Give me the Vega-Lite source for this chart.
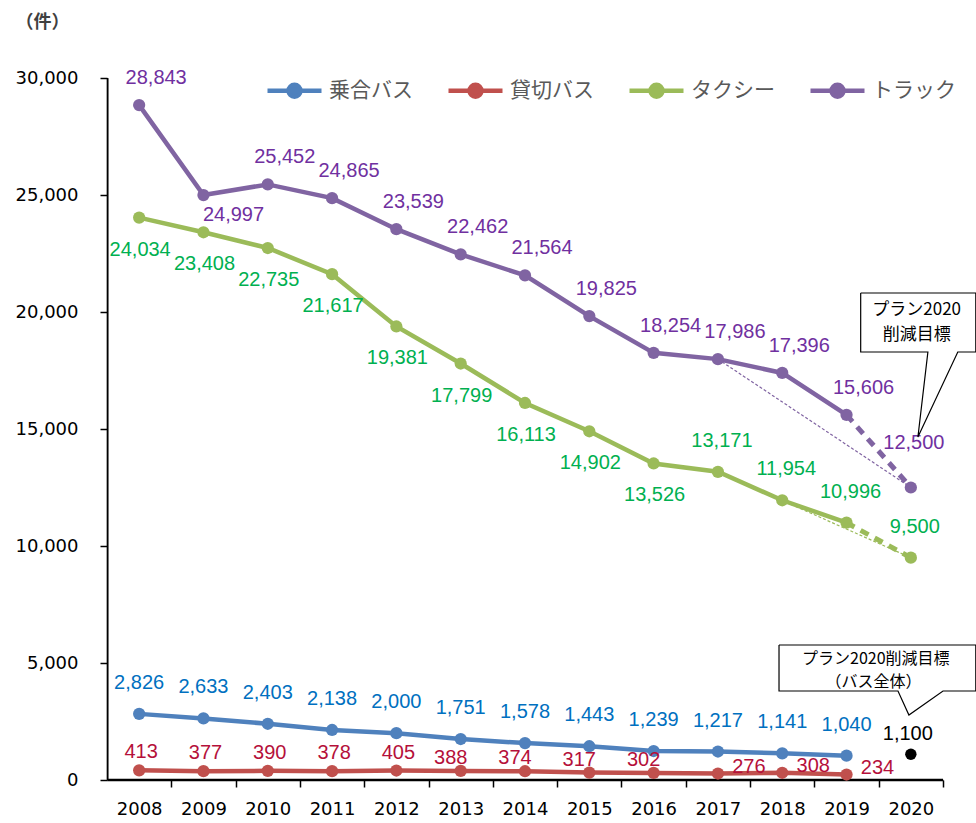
{
  "$schema": "https://vega.github.io/schema/vega-lite/v6.json",
  "width": 836,
  "height": 702,
  "autosize": {"type": "none"},
  "padding": {"left": 107, "top": 78, "right": 33, "bottom": 43},
  "background": "white",
  "config": {"view": {"stroke": null}, "font": "Liberation Sans"},
  "datasets": {
    "main": [
      {"year": 2008, "series": "乗合バス", "value": 2826, "kind": "実績"},
      {"year": 2009, "series": "乗合バス", "value": 2633, "kind": "実績"},
      {"year": 2010, "series": "乗合バス", "value": 2403, "kind": "実績"},
      {"year": 2011, "series": "乗合バス", "value": 2138, "kind": "実績"},
      {"year": 2012, "series": "乗合バス", "value": 2000, "kind": "実績"},
      {"year": 2013, "series": "乗合バス", "value": 1751, "kind": "実績"},
      {"year": 2014, "series": "乗合バス", "value": 1578, "kind": "実績"},
      {"year": 2015, "series": "乗合バス", "value": 1443, "kind": "実績"},
      {"year": 2016, "series": "乗合バス", "value": 1239, "kind": "実績"},
      {"year": 2017, "series": "乗合バス", "value": 1217, "kind": "実績"},
      {"year": 2018, "series": "乗合バス", "value": 1141, "kind": "実績"},
      {"year": 2019, "series": "乗合バス", "value": 1040, "kind": "実績"},
      {"year": 2008, "series": "貸切バス", "value": 413, "kind": "実績"},
      {"year": 2009, "series": "貸切バス", "value": 377, "kind": "実績"},
      {"year": 2010, "series": "貸切バス", "value": 390, "kind": "実績"},
      {"year": 2011, "series": "貸切バス", "value": 378, "kind": "実績"},
      {"year": 2012, "series": "貸切バス", "value": 405, "kind": "実績"},
      {"year": 2013, "series": "貸切バス", "value": 388, "kind": "実績"},
      {"year": 2014, "series": "貸切バス", "value": 374, "kind": "実績"},
      {"year": 2015, "series": "貸切バス", "value": 317, "kind": "実績"},
      {"year": 2016, "series": "貸切バス", "value": 302, "kind": "実績"},
      {"year": 2017, "series": "貸切バス", "value": 276, "kind": "実績"},
      {"year": 2018, "series": "貸切バス", "value": 308, "kind": "実績"},
      {"year": 2019, "series": "貸切バス", "value": 234, "kind": "実績"},
      {"year": 2008, "series": "タクシー", "value": 24034, "kind": "実績"},
      {"year": 2009, "series": "タクシー", "value": 23408, "kind": "実績"},
      {"year": 2010, "series": "タクシー", "value": 22735, "kind": "実績"},
      {"year": 2011, "series": "タクシー", "value": 21617, "kind": "実績"},
      {"year": 2012, "series": "タクシー", "value": 19381, "kind": "実績"},
      {"year": 2013, "series": "タクシー", "value": 17799, "kind": "実績"},
      {"year": 2014, "series": "タクシー", "value": 16113, "kind": "実績"},
      {"year": 2015, "series": "タクシー", "value": 14902, "kind": "実績"},
      {"year": 2016, "series": "タクシー", "value": 13526, "kind": "実績"},
      {"year": 2017, "series": "タクシー", "value": 13171, "kind": "実績"},
      {"year": 2018, "series": "タクシー", "value": 11954, "kind": "実績"},
      {"year": 2019, "series": "タクシー", "value": 10996, "kind": "実績"},
      {"year": 2020, "series": "タクシー", "value": 9500, "kind": "目標"},
      {"year": 2008, "series": "トラック", "value": 28843, "kind": "実績"},
      {"year": 2009, "series": "トラック", "value": 24997, "kind": "実績"},
      {"year": 2010, "series": "トラック", "value": 25452, "kind": "実績"},
      {"year": 2011, "series": "トラック", "value": 24865, "kind": "実績"},
      {"year": 2012, "series": "トラック", "value": 23539, "kind": "実績"},
      {"year": 2013, "series": "トラック", "value": 22462, "kind": "実績"},
      {"year": 2014, "series": "トラック", "value": 21564, "kind": "実績"},
      {"year": 2015, "series": "トラック", "value": 19825, "kind": "実績"},
      {"year": 2016, "series": "トラック", "value": 18254, "kind": "実績"},
      {"year": 2017, "series": "トラック", "value": 17986, "kind": "実績"},
      {"year": 2018, "series": "トラック", "value": 17396, "kind": "実績"},
      {"year": 2019, "series": "トラック", "value": 15606, "kind": "実績"},
      {"year": 2020, "series": "トラック", "value": 12500, "kind": "目標"},
      {"year": 2020, "series": "バス全体", "value": 1100, "kind": "目標"}
    ],
    "boxes": [
      {"id": 1, "x1": 2019.22, "x2": 2021.01, "y1": 18291, "y2": 20812},
      {"id": 2, "x1": 2017.95, "x2": 2021.01, "y1": 3803, "y2": 5769}
    ],
    "outline": [
      {"id": 1, "o": 1, "x": 2019.22, "y": 20812},
      {"id": 1, "o": 2, "x": 2021.01, "y": 20812},
      {"id": 1, "o": 3, "x": 2021.01, "y": 18291},
      {"id": 1, "o": 4, "x": 2020.73, "y": 18291},
      {"id": 1, "o": 5, "x": 2020.11, "y": 14658},
      {"id": 1, "o": 6, "x": 2020.265, "y": 18291},
      {"id": 1, "o": 7, "x": 2019.22, "y": 18291},
      {"id": 1, "o": 8, "x": 2019.22, "y": 20812},
      {"id": 2, "o": 1, "x": 2017.95, "y": 5769},
      {"id": 2, "o": 2, "x": 2021.01, "y": 5769},
      {"id": 2, "o": 3, "x": 2021.01, "y": 3803},
      {"id": 2, "o": 4, "x": 2020.5, "y": 3803},
      {"id": 2, "o": 5, "x": 2019.97, "y": 2778},
      {"id": 2, "o": 6, "x": 2019.8, "y": 3803},
      {"id": 2, "o": 7, "x": 2017.95, "y": 3803},
      {"id": 2, "o": 8, "x": 2017.95, "y": 5769}
    ],
    "notes": [
      {"x": 2020.09, "y": 20085, "t": "プラン2020", "box": 1},
      {"x": 2020.09, "y": 19017, "t": "削減目標", "box": 1},
      {"x": 2019.455, "y": 5170, "t": "プラン2020削減目標", "box": 2},
      {"x": 2019.42, "y": 4188, "t": "（バス全体）", "box": 2}
    ],
    "frame": [
      {"x0": 2007.51, "x1": 2020.5, "y0": 20, "y1": 20},
      {"x0": 2007.51, "x1": 2007.51, "y0": 20, "y1": 30000}
    ]
  },
  "data": {"name": "main"},
  "resolve": {"axis": {"x": "independent", "y": "independent"}},
  "layer": [
    {
      "transform": [{"filter": "datum.kind === '実績'"}],
      "mark": {"type": "line", "strokeWidth": 4.5},
      "encoding": {
        "x": {
          "field": "year", "type": "quantitative",
          "scale": {"domain": [2007.5, 2020.5], "nice": false, "zero": false},
          "axis": {
            "values": [2008, 2009, 2010, 2011, 2012, 2013, 2014, 2015, 2016, 2017, 2018, 2019, 2020],
            "labelExpr": "'' + datum.value", "grid": false,
            "ticks": true, "tickSize": 7, "tickColor": "black", "tickWidth": 1.5,
            "tickOffset": 32.15, "labelOffset": -32.15,
            "labelFont": "DejaVu Sans", "labelFontSize": 18, "labelColor": "black",
            "labelPadding": 13, "domainColor": "black", "domainWidth": 1.5, "title": null
          }
        },
        "y": {
          "field": "value", "type": "quantitative",
          "scale": {"domain": [0, 30000], "nice": false},
          "axis": {
            "values": [0, 5000, 10000, 15000, 20000, 25000, 30000],
            "labelExpr": "format(datum.value, ',')", "grid": false, "tickSize": 7, "tickColor": "black", "tickWidth": 1.5,
            "labelFont": "DejaVu Sans", "labelFontSize": 18, "labelColor": "black",
            "labelPadding": 22, "domainColor": "black", "domainWidth": 1.5,
            "title": "（件）", "titleAngle": 0, "titleX": -65, "titleY": -56,
            "titleAlign": "center", "titleBaseline": "middle",
            "titleFont": "Noto Sans CJK JP", "titleFontSize": 18, "titleFontWeight": "bold", "titleColor": "#404040"
          }
        },
        "color": {
          "field": "series", "type": "nominal",
          "scale": {"domain": ["乗合バス", "貸切バス", "タクシー", "トラック"], "range": ["#4F81BD", "#C0504D", "#9BBB59", "#8064A2"]},
          "legend": {
            "orient": "none", "legendX": 158, "legendY": -17, "direction": "horizontal", "title": null,
            "symbolType": "M-1,0L1,0M0.22,0A0.22,0.22,0,1,1,-0.22,0A0.22,0.22,0,1,1,0.22,0Z",
            "symbolSize": 2916, "symbolStrokeWidth": 4.5,
            "labelFont": "Noto Sans CJK JP", "labelFontSize": 21, "labelColor": "#595959",
            "labelOffset": 5, "columnPadding": 26,
            "encode": {"symbols": {"update": {"fill": {"scale": "color", "field": "value"}, "stroke": {"scale": "color", "field": "value"}, "opacity": {"value": 1}}}}
          }
        }
      }
    },
    {
      "data": {"name": "frame"},
      "mark": {"type": "rule", "color": "black", "strokeWidth": 1.5},
      "encoding": {
        "x": {"field": "x0", "type": "quantitative", "axis": null},
        "x2": {"field": "x1"},
        "y": {"field": "y0", "type": "quantitative", "axis": null},
        "y2": {"field": "y1"}
      }
    },
    {
      "transform": [{"filter": "(datum.series === 'タクシー' || datum.series === 'トラック') && (datum.year === 2017 || datum.year === 2020)"}],
      "mark": {"type": "line", "strokeWidth": 1.2, "strokeDash": [3, 2]},
      "encoding": {
        "x": {"field": "year", "type": "quantitative", "axis": null},
        "y": {"field": "value", "type": "quantitative", "axis": null},
        "color": {"field": "series", "type": "nominal", "legend": null}
      }
    },
    {
      "transform": [{"filter": "(datum.series === 'タクシー' || datum.series === 'トラック') && datum.year >= 2019"}],
      "mark": {"type": "line", "strokeWidth": 5, "strokeDash": [9, 7]},
      "encoding": {
        "x": {"field": "year", "type": "quantitative", "axis": null},
        "y": {"field": "value", "type": "quantitative", "axis": null},
        "color": {"field": "series", "type": "nominal", "legend": null}
      }
    },
    {
      "transform": [{"filter": "datum.series !== 'バス全体'"}],
      "mark": {"type": "point", "filled": true, "size": 150, "opacity": 1},
      "encoding": {
        "x": {"field": "year", "type": "quantitative", "axis": null},
        "y": {"field": "value", "type": "quantitative", "axis": null},
        "color": {"field": "series", "type": "nominal", "legend": null}
      }
    },
    {
      "transform": [{"filter": "datum.series === 'バス全体'"}],
      "mark": {"type": "point", "filled": true, "size": 130, "opacity": 1, "color": "black"},
      "encoding": {
        "x": {"field": "year", "type": "quantitative", "axis": null},
        "y": {"field": "value", "type": "quantitative", "axis": null}
      }
    },
    {
      "transform": [{"filter": "datum.series === 'バス全体'"}],
      "mark": {"type": "text", "fontSize": 20, "dx": -3, "dy": -20, "color": "black"},
      "encoding": {
        "x": {"field": "year", "type": "quantitative", "axis": null},
        "y": {"field": "value", "type": "quantitative", "axis": null},
        "text": {"field": "value", "type": "quantitative", "format": ","}
      }
    },
    {
      "transform": [{"filter": "datum.series === '乗合バス'"}],
      "mark": {"type": "text", "fontSize": 20, "dy": -31, "color": "#0070C0"},
      "encoding": {
        "x": {"field": "year", "type": "quantitative", "axis": null},
        "y": {"field": "value", "type": "quantitative", "axis": null},
        "text": {"field": "value", "type": "quantitative", "format": ","}
      }
    },
    {
      "transform": [{"filter": "datum.series === '貸切バス' && datum.year <= 2012"}],
      "mark": {"type": "text", "fontSize": 20, "dx": 2, "dy": -18, "color": "#B5103A"},
      "encoding": {
        "x": {"field": "year", "type": "quantitative", "axis": null},
        "y": {"field": "value", "type": "quantitative", "axis": null},
        "text": {"field": "value", "type": "quantitative", "format": ","}
      }
    },
    {
      "transform": [{"filter": "datum.series === '貸切バス' && datum.year >= 2013 && datum.year <= 2016"}],
      "mark": {"type": "text", "fontSize": 20, "dx": -10, "dy": -13, "color": "#B5103A"},
      "encoding": {
        "x": {"field": "year", "type": "quantitative", "axis": null},
        "y": {"field": "value", "type": "quantitative", "axis": null},
        "text": {"field": "value", "type": "quantitative", "format": ","}
      }
    },
    {
      "transform": [{"filter": "datum.series === '貸切バス' && datum.year >= 2017"}],
      "mark": {"type": "text", "fontSize": 20, "dx": 31, "dy": -7, "color": "#B5103A"},
      "encoding": {
        "x": {"field": "year", "type": "quantitative", "axis": null},
        "y": {"field": "value", "type": "quantitative", "axis": null},
        "text": {"field": "value", "type": "quantitative", "format": ","}
      }
    },
    {
      "transform": [{"filter": "datum.series === 'タクシー' && datum.year <= 2016"}],
      "mark": {"type": "text", "fontSize": 20, "dx": 1, "dy": 32, "color": "#00B050"},
      "encoding": {
        "x": {"field": "year", "type": "quantitative", "axis": null},
        "y": {"field": "value", "type": "quantitative", "axis": null},
        "text": {"field": "value", "type": "quantitative", "format": ","}
      }
    },
    {
      "transform": [{"filter": "datum.series === 'タクシー' && datum.year >= 2017"}],
      "mark": {"type": "text", "fontSize": 20, "dx": 4, "dy": -31, "color": "#00B050"},
      "encoding": {
        "x": {"field": "year", "type": "quantitative", "axis": null},
        "y": {"field": "value", "type": "quantitative", "axis": null},
        "text": {"field": "value", "type": "quantitative", "format": ","}
      }
    },
    {
      "transform": [{"filter": "datum.series === 'トラック' && datum.year !== 2009 && datum.year !== 2020"}],
      "mark": {"type": "text", "fontSize": 20, "dx": 17, "dy": -27, "color": "#7030A0"},
      "encoding": {
        "x": {"field": "year", "type": "quantitative", "axis": null},
        "y": {"field": "value", "type": "quantitative", "axis": null},
        "text": {"field": "value", "type": "quantitative", "format": ","}
      }
    },
    {
      "transform": [{"filter": "datum.series === 'トラック' && datum.year === 2009"}],
      "mark": {"type": "text", "fontSize": 20, "dx": 30, "dy": 20, "color": "#7030A0"},
      "encoding": {
        "x": {"field": "year", "type": "quantitative", "axis": null},
        "y": {"field": "value", "type": "quantitative", "axis": null},
        "text": {"field": "value", "type": "quantitative", "format": ","}
      }
    },
    {
      "transform": [{"filter": "datum.series === 'トラック' && datum.year === 2020"}],
      "mark": {"type": "text", "fontSize": 20, "dx": 3, "dy": -45, "color": "#7030A0"},
      "encoding": {
        "x": {"field": "year", "type": "quantitative", "axis": null},
        "y": {"field": "value", "type": "quantitative", "axis": null},
        "text": {"field": "value", "type": "quantitative", "format": ","}
      }
    },
    {
      "data": {"name": "boxes"},
      "mark": {"type": "rect", "fill": "white", "strokeWidth": 0},
      "encoding": {
        "x": {"field": "x1", "type": "quantitative", "axis": null},
        "x2": {"field": "x2"},
        "y": {"field": "y1", "type": "quantitative", "axis": null},
        "y2": {"field": "y2"}
      }
    },
    {
      "data": {"name": "outline"},
      "mark": {"type": "line", "color": "black", "strokeWidth": 1.2},
      "encoding": {
        "x": {"field": "x", "type": "quantitative", "axis": null},
        "y": {"field": "y", "type": "quantitative", "axis": null},
        "detail": {"field": "id", "type": "nominal"},
        "order": {"field": "o", "type": "quantitative"}
      }
    },
    {
      "data": {"name": "notes"},
      "transform": [{"filter": "datum.box === 1"}],
      "mark": {"type": "text", "font": "Noto Sans CJK JP", "fontSize": 17, "color": "black"},
      "encoding": {
        "x": {"field": "x", "type": "quantitative", "axis": null},
        "y": {"field": "y", "type": "quantitative", "axis": null},
        "text": {"field": "t", "type": "nominal"}
      }
    },
    {
      "data": {"name": "notes"},
      "transform": [{"filter": "datum.box === 2"}],
      "mark": {"type": "text", "font": "Noto Sans CJK JP", "fontSize": 16, "color": "black"},
      "encoding": {
        "x": {"field": "x", "type": "quantitative", "axis": null},
        "y": {"field": "y", "type": "quantitative", "axis": null},
        "text": {"field": "t", "type": "nominal"}
      }
    }
  ]
}
